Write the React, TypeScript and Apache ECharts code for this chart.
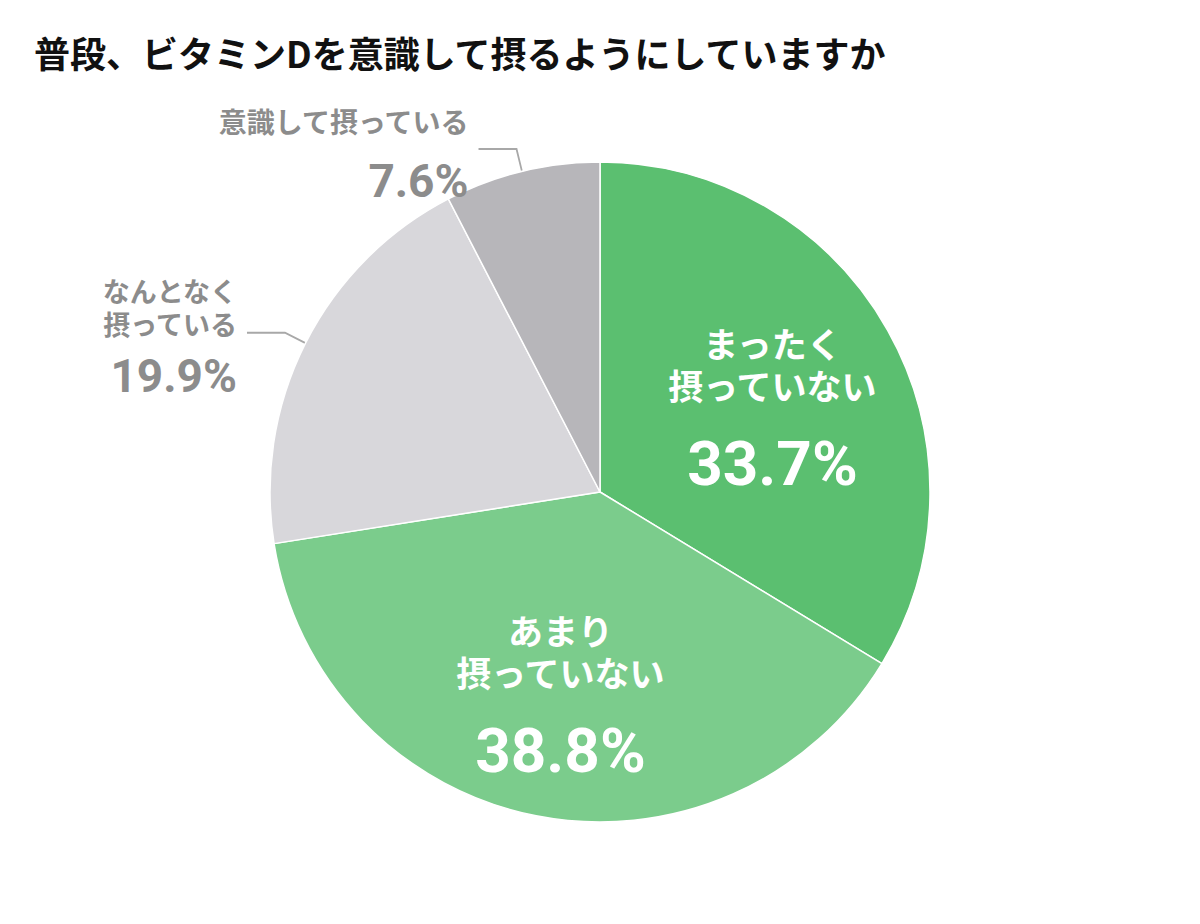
import React, { useEffect, useRef } from "react";
import * as echarts from "echarts";

const TITLE = "普段、ビタミンDを意識して摂るようにしていますか";
const categories = ["まったく\n摂っていない", "あまり\n摂っていない", "なんとなく\n摂っている", "意識して摂っている"];
const values = [33.7, 38.8, 19.9, 7.6];
const colors = ["#5bbf70", "#7bcc8c", "#d8d7db", "#b7b6ba"];
const insideFlags = [true, true, false, false];

const JP = "'Noto Sans CJK JP', 'Noto Sans', sans-serif";
const NUM = "Roboto, 'Noto Sans CJK JP', sans-serif";

function labelFor(i: number) {
  const lines = categories[i].split("\n");
  const pct = values[i].toFixed(1) + "%";
  if (insideFlags[i]) {
    return {
      show: true,
      position: "inside",
      formatter: lines.map((l) => `{n|${l}}`).join("\n") + `\n{v|${pct}}`,
      rich: {
        n: { fontFamily: JP, fontSize: 35, fontWeight: "bold", color: "#ffffff", lineHeight: 42, align: "center" },
        v: { fontFamily: NUM, fontSize: 62, fontWeight: "bold", color: "#ffffff", lineHeight: 116, align: "center" },
      },
    };
  }
  if (lines.length > 1) {
    return {
      show: true,
      position: "outside",
      distanceToLabelLine: 10,
      formatter: `{s| }\n` + lines.map((l) => `{n|${l}}`).join("\n") + `\n{v|${pct}}`,
      rich: {
        s: { fontSize: 10, lineHeight: 20 },
        n: { fontFamily: JP, fontSize: 27, fontWeight: "bold", color: "#8c8c8c", lineHeight: 33, align: "right" },
        v: { fontFamily: NUM, fontSize: 46, fontWeight: "bold", color: "#8c8c8c", lineHeight: 71, align: "right" },
      },
    };
  }
  return {
    show: true,
    position: "outside",
    distanceToLabelLine: 10,
    formatter: lines.map((l) => `{n|${l}}`).join("\n") + `\n{v|${pct}}`,
    rich: {
      n: { fontFamily: JP, fontSize: 28, fontWeight: "bold", color: "#8c8c8c", lineHeight: 64, align: "right" },
      v: { fontFamily: NUM, fontSize: 46, fontWeight: "bold", color: "#8c8c8c", lineHeight: 56, align: "right" },
    },
  };
}

const insideShift: Record<number, [number, number]> = { 0: [26, 12], 1: [-7, 52] };

export default function App() {
  const ref = useRef<HTMLDivElement>(null);
  useEffect(() => {
    document.body.style.margin = "0";
    const chart = echarts.init(ref.current!, null, { renderer: "svg" });
    const data = values.map((v, i) => ({
      value: v,
      name: categories[i],
      itemStyle: { color: colors[i] },
      label: labelFor(i),
      labelLine: { show: !insideFlags[i] },
    }));
    chart.setOption({
      animation: false,
      backgroundColor: "#ffffff",
      title: {
        text: TITLE,
        left: 29,
        top: 29,
        textStyle: { fontFamily: JP, fontSize: 36, fontWeight: "bold", color: "#111111" },
      },
      series: [
        {
          type: "pie",
          center: [600, 492],
          radius: 330,
          startAngle: 90,
          clockwise: true,
          avoidLabelOverlap: false,
          itemStyle: { borderColor: "#ffffff", borderWidth: 1.5 },
          labelLine: {
            length: 23,
            length2: 38,
            lineStyle: { color: "#a8a8a8", width: 1.8 },
          },
          emphasis: { disabled: true },
          labelLayout: (p: any) => {
            const s = insideShift[p.dataIndex];
            return s ? { dx: s[0], dy: s[1] } : {};
          },
          data,
        },
      ],
    });
    return () => chart.dispose();
  }, []);
  return <div ref={ref} style={{ position: "fixed", left: 0, top: 0, width: 1200, height: 924 }} />;
}
